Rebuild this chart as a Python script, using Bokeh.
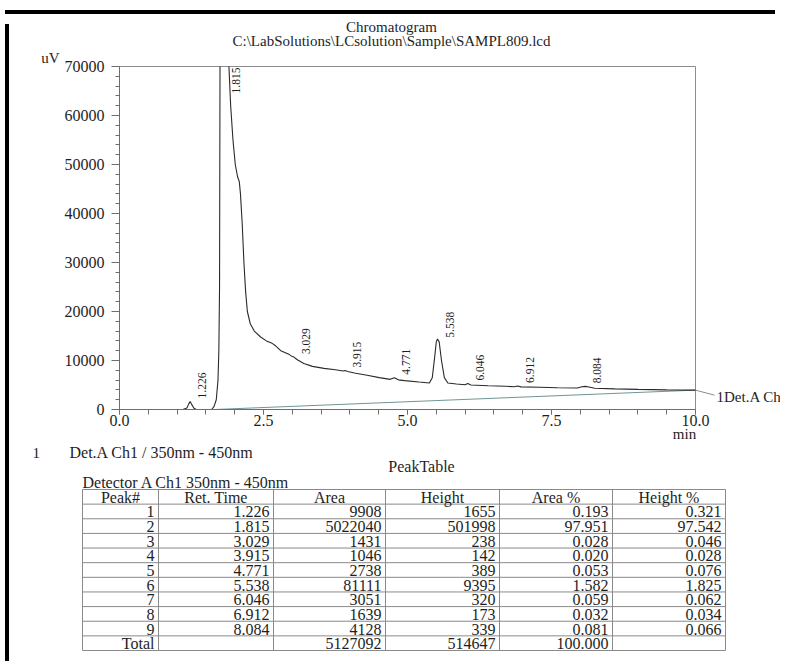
import math
import numpy as np
from bokeh.plotting import figure
from bokeh.models import Range1d, FixedTicker, Div, Spacer
from bokeh.layouts import column, row
from bokeh.embed import file_html
from bokeh.resources import INLINE
from bokeh.core.properties import value

# ---------------- data ----------------
trace_time = [0.00, 1.10, 1.17, 1.20, 1.226, 1.25, 1.29, 1.33, 1.60, 1.64, 1.68, 1.71,
              1.725, 1.737, 1.745, 1.76, 1.815, 1.86, 1.90, 1.93, 1.97, 2.01, 2.05,
              2.08, 2.10, 2.13, 2.16, 2.19, 2.22, 2.27, 2.34, 2.45, 2.55, 2.65, 2.71,
              2.80, 2.95, 3.00, 3.029, 3.08, 3.20, 3.35, 3.55, 3.75, 3.88, 3.915, 3.96,
              4.10, 4.30, 4.51, 4.70, 4.771, 4.84, 4.95, 5.20, 5.38, 5.43, 5.47, 5.50,
              5.52, 5.55, 5.59, 5.64, 5.70, 5.85, 6.00, 6.046, 6.10, 6.40, 6.70, 6.85,
              6.912, 6.97, 7.30, 7.60, 7.95, 8.03, 8.084, 8.15, 8.25, 8.60, 9.00, 9.50, 10.0]
trace_uv = [0, 0, 300, 1100, 1650, 1100, 300, 0, 0, 600, 2000, 6000,
            12000, 25000, 70000, 150000, 501998, 200000, 70000, 62000, 55000, 50000, 47500,
            46500, 44000, 38000, 30000, 24000, 20000, 17500, 16000, 14800, 14000, 13500, 13000,
            12000, 11200, 10800, 10700, 10200, 9400, 8800, 8400, 8100, 7850, 7950, 7750,
            7400, 7000, 6500, 6150, 6500, 6050, 5900, 5600, 5400, 6500, 10500, 13800,
            14400, 13800, 10000, 6500, 5400, 5200, 5050, 5300, 5000, 4850, 4750, 4650,
            4800, 4620, 4550, 4450, 4400, 4650, 4720, 4600, 4350, 4200, 4100, 4000, 3950]
drift_time = [1.65, 10.0]
drift_uv = [0, 3950]

peak_no = ["1", "2", "3", "4", "5", "6", "7", "8", "9"]
ret_time = [1.226, 1.815, 3.029, 3.915, 4.771, 5.538, 6.046, 6.912, 8.084]
area = [9908, 5022040, 1431, 1046, 2738, 81111, 3051, 1639, 4128]
height = [1655, 501998, 238, 142, 389, 9395, 320, 173, 339]
area_pct = [0.193, 97.951, 0.028, 0.020, 0.053, 1.582, 0.059, 0.032, 0.081]
height_pct = [0.321, 97.542, 0.046, 0.028, 0.076, 1.825, 0.062, 0.034, 0.066]
total_area = 5127092
total_height = 514647
total_area_pct = 100.000
table_headers = ["Peak#", "Ret. Time", "Area", "Height", "Area %", "Height %"]

x_ticks = [0, 2.5, 5, 7.5, 10]
x_tick_labels = ["0.0", "2.5", "5.0", "7.5", "10.0"]
y_ticks = [0, 10000, 20000, 30000, 40000, 50000, 60000, 70000]
y_tick_labels = ["0", "10000", "20000", "30000", "40000", "50000", "60000", "70000"]

title_lines = ["Chromatogram", "C:\\LabSolutions\\LCsolution\\Sample\\SAMPL809.lcd"]
channel_label = "1Det.A Ch"
y_unit = "uV"
x_unit = "min"

# ---------------- layout constants ----------------
SERIF = "Liberation Serif"
INK = "#1e1e1e"
AXIS_C = "#6e6e6e"
A_W, A_H, B_H = 766, 425, 212
FIG_X, FIG_Y = 12, 17                  # page position of the chromatogram figure
ORIGIN_PX, ORIGIN_PY = 117, 407        # page position of (0 min, 0 uV)
X_AXIS_END = 10.0
Y_AXIS_END = 70000
PX_PER_MIN = 57.6
PX_PER_UV = 343 / Y_AXIS_END

x_start = (FIG_X - ORIGIN_PX) / PX_PER_MIN
x_end = (FIG_X + A_W - ORIGIN_PX) / PX_PER_MIN
y_start = (ORIGIN_PY - (FIG_Y + A_H)) / PX_PER_UV
y_end = (ORIGIN_PY - FIG_Y) / PX_PER_UV


def page_to_data(px, py):
    return (px - ORIGIN_PX) / PX_PER_MIN, (ORIGIN_PY - py) / PX_PER_UV


def add_text(fig, px, py, txt, align="center", size="15px"):
    dx, dy = page_to_data(px, py)
    fig.text(x=[dx], y=[dy], text=[txt], text_align=align, text_baseline="middle",
             text_font=value(SERIF), text_font_size=size, text_color=INK)


# ---------------- chromatogram figure ----------------
p = figure(width=A_W, height=A_H, title=None, x_range=Range1d(x_start, x_end),
           y_range=Range1d(y_start, y_end), output_backend="svg", toolbar_location=None,
           min_border=0)
p.grid.visible = False
p.outline_line_color = None
p.background_fill_color = "white"
p.border_fill_color = "white"

p.xaxis.fixed_location = 0
p.yaxis.fixed_location = 0
p.xaxis.ticker = FixedTicker(ticks=x_ticks, minor_ticks=[i * 0.5 for i in range(21)])
p.yaxis.ticker = FixedTicker(ticks=y_ticks, minor_ticks=[i * 2000 for i in range(36)])
p.xaxis.major_label_overrides = {t: s for t, s in zip(x_ticks, x_tick_labels)}
p.yaxis.major_label_overrides = {t: s for t, s in zip(y_ticks, y_tick_labels)}
p.xaxis.bounds = (0, X_AXIS_END)
p.yaxis.bounds = (0, Y_AXIS_END)
for ax in (p.xaxis, p.yaxis):
    ax.axis_line_color = AXIS_C
    ax.major_tick_line_color = AXIS_C
    ax.minor_tick_line_color = AXIS_C
    ax.major_tick_in = 0
    ax.minor_tick_in = 0
    ax.major_label_text_font = SERIF
    ax.major_label_text_font_size = "16px"
    ax.major_label_text_color = INK
p.yaxis.major_tick_out = 8
p.yaxis.minor_tick_out = 4
p.yaxis.major_label_standoff = 7
p.xaxis.major_tick_out = 5
p.xaxis.minor_tick_out = 5
p.xaxis.major_label_standoff = 0

# box top and right edges
p.segment(x0=[0, X_AXIS_END], y0=[Y_AXIS_END, 0], x1=[X_AXIS_END, X_AXIS_END],
          y1=[Y_AXIS_END, Y_AXIS_END], line_color="#8c8c8c", line_width=1)

p.line(drift_time, drift_uv, line_color="#6f9696", line_width=1)
# the recorder cuts the signal off at the top of the box: off-scale points become gaps
shown_uv = [v if v <= Y_AXIS_END else float("nan") for v in trace_uv]
p.line(trace_time, shown_uv, line_color="#2a2a2a", line_width=1.1)

# peak labels
peak_top = np.interp(ret_time, trace_time, trace_uv)
lab = ["%.3f" % t for t in ret_time]
on_x = [t for t, v in zip(ret_time, peak_top) if v <= Y_AXIS_END]
on_y = [v for v in peak_top if v <= Y_AXIS_END]
on_t = [s for s, v in zip(lab, peak_top) if v <= Y_AXIS_END]
off_x = [t for t, v in zip(ret_time, peak_top) if v > Y_AXIS_END]
off_t = [s for s, v in zip(lab, peak_top) if v > Y_AXIS_END]
p.text(x=on_x, y=on_y, text=on_t, angle=math.pi / 2, text_align="left",
       text_baseline="middle", x_offset=12, y_offset=-3,
       text_font=value(SERIF), text_font_size="11.5px", text_color=INK)
p.text(x=off_x, y=[Y_AXIS_END] * len(off_x), text=off_t, angle=math.pi / 2,
       text_align="right", text_baseline="middle", x_offset=12, y_offset=1,
       text_font=value(SERIF), text_font_size="11.5px", text_color=INK)

# channel label with leader line
end_t, end_v = drift_time[-1], drift_uv[-1]
p.segment(x0=[end_t], y0=[end_v], x1=[end_t + 19 / PX_PER_MIN], y1=[end_v - 5 / PX_PER_UV],
          line_color="#8c8c8c", line_width=1)
p.text(x=[end_t], y=[end_v], text=[channel_label], x_offset=21, y_offset=7,
       text_align="left", text_baseline="middle", text_font=value(SERIF),
       text_font_size="15px", text_color=INK)

# titles and units
add_text(p, 389, 24, title_lines[0])
add_text(p, 389, 38, title_lines[1])
add_text(p, 48, 55, y_unit)
add_text(p, 682, 431, x_unit)

# ---------------- peak table figure ----------------
q = figure(width=A_W, height=B_H, title=None, x_range=Range1d(0, A_W), y_range=Range1d(B_H, 0),
           output_backend="svg", toolbar_location=None, min_border=0,
           x_axis_location=None, y_axis_location=None)
q.grid.visible = False
q.outline_line_color = None
q.background_fill_color = "white"
q.border_fill_color = "white"

OX, OY = FIG_X, FIG_Y + A_H   # page offset of table figure
q.text(x=[30 - OX], y=[450 - OY], text=["1"], text_align="left", text_baseline="middle",
       text_font=value(SERIF), text_font_size="15px", text_color=INK)
q.text(x=[67 - OX], y=[450 - OY], text=["Det.A Ch1 / 350nm - 450nm"], text_align="left",
       text_baseline="middle", text_font=value(SERIF), text_font_size="16px", text_color=INK)
q.text(x=[419 - OX], y=[464 - OY], text=["PeakTable"], text_align="center",
       text_baseline="middle", text_font=value(SERIF), text_font_size="16px", text_color=INK)
q.text(x=[80 - OX], y=[480 - OY], text=["Detector A Ch1 350nm - 450nm"], text_align="left",
       text_baseline="middle", text_font=value(SERIF), text_font_size="16px", text_color=INK)

col_edges = [e - OX for e in [80, 156, 271, 383, 497, 610, 723]]
t_top, t_bot = 487 - OY, 648 - OY
n_rows = len(peak_no) + 2
row_h = (t_bot - t_top) / n_rows
row_edges = [t_top + i * row_h for i in range(n_rows + 1)]
q.segment(x0=[col_edges[0]] * len(row_edges), x1=[col_edges[-1]] * len(row_edges),
          y0=row_edges, y1=row_edges, line_color="#8a8a8a", line_width=1)
q.segment(x0=col_edges, x1=col_edges, y0=[t_top] * len(col_edges), y1=[t_bot] * len(col_edges),
          line_color="#8a8a8a", line_width=1)

hx = [(a + b) / 2 for a, b in zip(col_edges[:-1], col_edges[1:])]
q.text(x=hx, y=[t_top + row_h / 2 + 0.5] * len(hx), text=table_headers, text_align="center",
       text_baseline="middle", text_font=value(SERIF), text_font_size="16px", text_color=INK)

columns = [peak_no + ["Total"],
           ["%.3f" % v for v in ret_time] + [""],
           [str(v) for v in area] + [str(total_area)],
           [str(v) for v in height] + [str(total_height)],
           ["%.3f" % v for v in area_pct] + ["%.3f" % total_area_pct],
           ["%.3f" % v for v in height_pct] + [""]]
for ci, vals in enumerate(columns):
    xs, ys, ts = [], [], []
    for ri, v in enumerate(vals):
        if v == "":
            continue
        xs.append(col_edges[ci + 1] - 4)
        ys.append(row_edges[ri + 1] + row_h / 2 + 0.5)
        ts.append(v)
    q.text(x=xs, y=ys, text=ts, text_align="right", text_baseline="middle",
           text_font=value(SERIF), text_font_size="16px", text_color=INK)

# ---------------- page assembly with scan border ----------------
top_bar = Div(text="", width=770, height=4, styles={"background-color": "black"})
left_bar = Div(text="", width=4, height=A_H + B_H, styles={"background-color": "black"})
layout = column(Spacer(width=770, height=5), top_bar, row(left_bar, column(p, q)))

open("out.html", "w").write(file_html(layout, INLINE))
